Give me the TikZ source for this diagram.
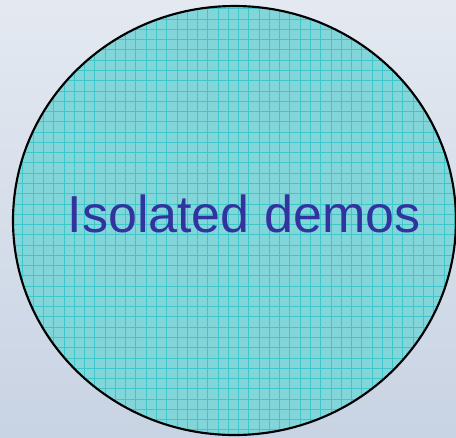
\documentclass[tikz,border=0pt]{standalone}
\usepackage{fontspec}
\setmainfont{Liberation Sans}
\definecolor{bgtop}{HTML}{E4E9F1}
\definecolor{bgbot}{HTML}{C8D3E3}
\definecolor{cellfill}{HTML}{82D6DA}
\definecolor{gridc}{HTML}{3EC6CA}
\definecolor{txtc}{HTML}{3333A0}
\tikzset{
  gridline/.style={draw=gridc, line width=0.55pt},
  outline/.style={draw=black, line width=1.6pt},
  label/.style={text=txtc, font=\fontsize{39}{44}\selectfont, inner sep=0pt, anchor=base}
}
\begin{document}
\begin{tikzpicture}[x=0.75pt,y=-0.75pt]
\useasboundingbox (0,0) rectangle (456,437);
\shade[top color=bgtop, bottom color=bgbot] (0,0) rectangle (456,437);
\begin{scope}
  \clip (234.5,220.5) ellipse [x radius=221.5, y radius=214.5];
  \fill[cellfill] (0,0) rectangle (460,440);
  \foreach \i in {0,...,45} {
    \draw[gridline] ({2.3+10.27*\i},0) -- ({2.3+10.27*\i},440);
  }
  \foreach \j in {0,...,43} {
    \draw[gridline] (0,{8.75+10.27*\j}) -- (460,{8.75+10.27*\j});
  }
\end{scope}
\draw[outline] (234.5,220.5) ellipse [x radius=221.5, y radius=214.5];
\node[label] (title) at (244,232) {Isolated demos};
\end{tikzpicture}
\end{document}
